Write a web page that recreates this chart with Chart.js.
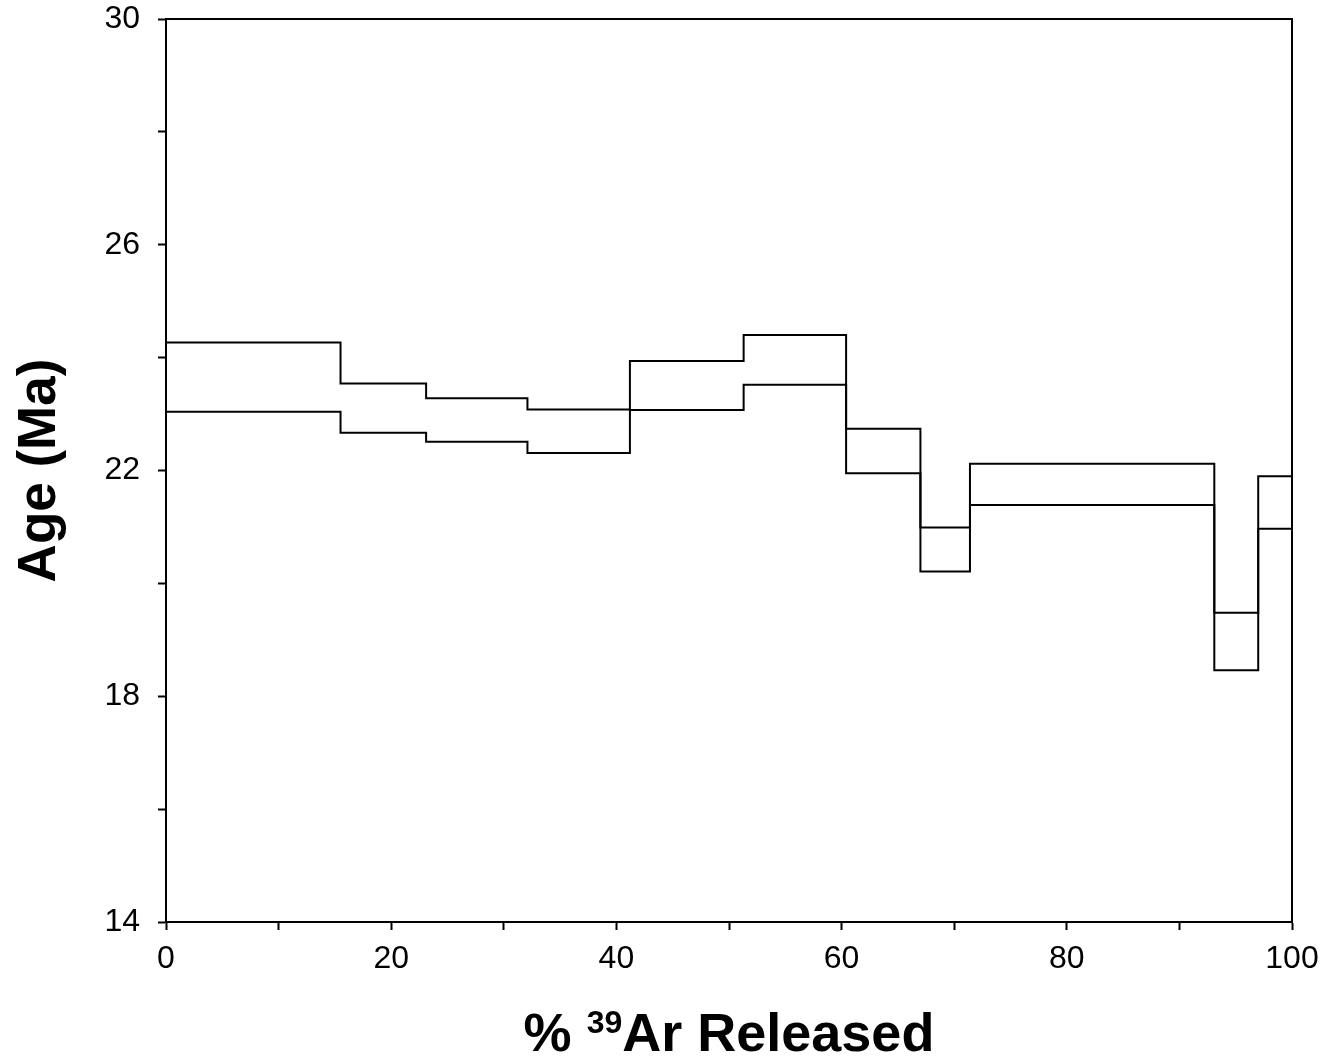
<!DOCTYPE html>
<html>
<head>
<meta charset="utf-8">
<script src="https://cdn.jsdelivr.net/npm/chart.js@4/dist/chart.umd.min.js"></script>
<style>
  html, body { margin: 0; padding: 0; background: #ffffff; }
  #wrap { width: 1326px; height: 1062px; }
</style>
</head>
<body>
<div id="wrap"><canvas id="c" width="1326" height="1062"></canvas></div>
<script>
// Step boundaries (% 39Ar released, cumulative)
const stepEdges = [0, 15.5, 23.1, 32.1, 41.2, 51.3, 60.4, 67.0, 71.4, 93.1, 97.0, 100];
// Upper and lower age bounds (Ma) of each step
const upperAges = [24.27, 23.54, 23.28, 23.08, 23.94, 24.40, 22.74, 20.99, 22.12, 19.48, 21.90];
const lowerAges = [23.04, 22.67, 22.51, 22.31, 23.07, 23.52, 21.95, 20.21, 21.39, 18.46, 20.97];
// Axis tick labels
const xTickLabels = [0, 20, 40, 60, 80, 100];
const yTickLabels = [14, 18, 22, 26, 30];

function stepData(ages) {
  const pts = ages.map((a, i) => ({ x: stepEdges[i], y: a }));
  pts.push({ x: stepEdges[stepEdges.length - 1], y: ages[ages.length - 1] });
  return pts;
}

const FAM = 'Liberation Sans, Arial, sans-serif';
const TICK_FONT = { family: FAM, size: 32 };

const framePlugin = {
  id: 'frame',
  afterDraw(chart) {
    const { ctx, chartArea: a } = chart;
    ctx.save();
    ctx.strokeStyle = '#000';
    ctx.lineWidth = 2;
    ctx.beginPath();
    ctx.moveTo(a.left, a.top);
    ctx.lineTo(a.right, a.top);
    ctx.lineTo(a.right, a.bottom);
    ctx.stroke();
    // x axis title with superscript
    const parts = [
      { t: '% ', f: 'bold 54px ' + FAM, dy: 0 },
      { t: '39', f: 'bold 32px ' + FAM, dy: -18 },
      { t: 'Ar Released', f: 'bold 54px ' + FAM, dy: 0 }
    ];
    let total = 0;
    parts.forEach(p => { ctx.font = p.f; p.w = ctx.measureText(p.t).width; total += p.w; });
    const cx = (a.left + a.right) / 2;
    let x = cx - total / 2;
    const baseY = 1051;
    ctx.fillStyle = '#000';
    ctx.textBaseline = 'alphabetic';
    ctx.textAlign = 'left';
    parts.forEach(p => { ctx.font = p.f; ctx.fillText(p.t, x, baseY + p.dy); x += p.w; });
    ctx.restore();
  }
};

new Chart(document.getElementById('c'), {
  type: 'line',
  data: {
    datasets: [
      { label: 'Upper', data: stepData(upperAges), stepped: 'before', borderColor: '#000', borderWidth: 2, pointRadius: 0, fill: false },
      { label: 'Lower', data: stepData(lowerAges), stepped: 'before', borderColor: '#000', borderWidth: 2, pointRadius: 0, fill: false }
    ]
  },
  options: {
    responsive: false,
    animation: false,
    layout: { padding: { left: 0, right: 34, top: 19, bottom: 0 } },
    plugins: { legend: { display: false }, tooltip: { enabled: false }, title: { display: false } },
    scales: {
      x: {
        type: 'linear', min: 0, max: 100,
        afterFit(s) { s.height = 140; s.paddingLeft = 0; s.paddingRight = 0; },
        border: { display: true, color: '#000', width: 2 },
        grid: { drawOnChartArea: false, drawTicks: true, tickLength: 8, tickColor: '#000', tickWidth: 2 },
        ticks: {
          stepSize: 10, color: '#000', font: TICK_FONT, padding: 10, maxRotation: 0,
          callback: v => xTickLabels.includes(v) ? String(v) : ''
        },
        title: { display: false }
      },
      y: {
        type: 'linear', min: 14, max: 30,
        afterFit(s) { s.width = 166; s.paddingTop = 0; s.paddingBottom = 0; },
        border: { display: true, color: '#000', width: 2 },
        grid: { drawOnChartArea: false, drawTicks: true, tickLength: 8, tickColor: '#000', tickWidth: 2 },
        ticks: {
          stepSize: 2, color: '#000', font: TICK_FONT, padding: 18,
          callback: v => yTickLabels.includes(v) ? String(v) : ''
        },
        title: {
          display: true, text: 'Age (Ma)', color: '#000',
          font: { family: FAM, size: 53, weight: 'bold' },
          padding: { top: 9, bottom: 0 }
        }
      }
    }
  },
  plugins: [framePlugin]
});
</script>
</body>
</html>
